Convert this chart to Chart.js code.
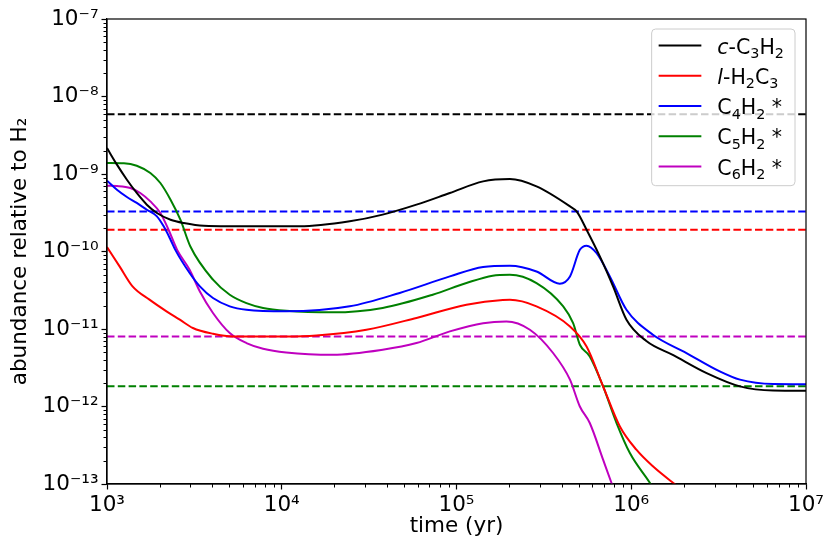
<!DOCTYPE html>
<html>
<head>
<meta charset="utf-8">
<script src="https://cdn.jsdelivr.net/npm/chart.js@4.4.1/dist/chart.umd.min.js"></script>
<style>
  html, body { margin: 0; padding: 0; background: #fff; }
  canvas { display: block; }
</style>
</head>
<body>
<canvas id="chart" width="830" height="554"></canvas>
<script>
// species labels: {..} = italic, _x = subscript
const species = ["{c}-C_3H_2", "{l}-H_2C_3", "C_4H_2 *", "C_5H_2 *", "C_6H_2 *"];
const colors = ["#000000", "#ff0000", "#0000ff", "#008000", "#bf00bf"];

// observed abundances (dashed lines), same order as species
const observed = [5.9e-9, 1.91e-10, 3.29e-10, 1.82e-12, 8.03e-12];

// model curves, time in yr
const tC3H2 = [1000, 1140, 1300, 1480, 1690, 1930, 2310, 2750, 3580, 7480, 12700, 24500, 37800, 59000, 91600, 142000, 202000, 287000, 446000, 487000, 555000, 661000, 787000, 939000, 1220000, 1740000, 2700000, 4190000, 6490000, 10000000];
const yC3H2 = [2.16e-9, 1.32e-9, 8.44e-10, 5.69e-10, 4.02e-10, 3.14e-10, 2.57e-10, 2.33e-10, 2.15e-10, 2.11e-10, 2.11e-10, 2.45e-10, 2.99e-10, 4.02e-10, 5.69e-10, 8.03e-10, 8.61e-10, 6.92e-10, 3.82e-10, 3.29e-10, 1.91e-10, 8.65e-11, 3.55e-11, 1.32e-11, 7.0e-12, 4.6e-12, 2.7e-12, 1.82e-12, 1.61e-12, 1.6e-12];

const tH2C3 = [1000, 1180, 1400, 1750, 2190, 2610, 3100, 4040, 5260, 10600, 15800, 30500, 59000, 114000, 184000, 202000, 287000, 446000, 555000, 690000, 861000, 1070000, 1330000, 1740000, 2100000];
const yH2C3 = [1.14e-10, 6.43e-11, 3.55e-11, 2.39e-11, 1.69e-11, 1.32e-11, 1.03e-11, 8.69e-12, 8.03e-12, 8.03e-12, 8.26e-12, 9.78e-12, 1.39e-11, 2.06e-11, 2.37e-11, 2.38e-11, 1.96e-11, 1.08e-11, 5.96e-12, 1.82e-12, 5.53e-13, 2.77e-13, 1.69e-13, 1.03e-13, 7.5e-14];

const tC4H2 = [1000, 1140, 1300, 1480, 1690, 1930, 2110, 2310, 2460, 2970, 3400, 4040, 5040, 6280, 10600, 24500, 47300, 91600, 142000, 202000, 287000, 390000, 446000, 508000, 555000, 632000, 754000, 939000, 1330000, 2070000, 3210000, 4190000, 6490000, 10000000];
const yC4H2 = [8.2e-10, 6.27e-10, 5.05e-10, 4.23e-10, 3.46e-10, 2.84e-10, 2.11e-10, 1.42e-10, 1.05e-10, 5.28e-11, 3.55e-11, 2.51e-11, 1.96e-11, 1.77e-11, 1.69e-11, 1.96e-11, 2.92e-11, 4.77e-11, 6.31e-11, 6.56e-11, 5.53e-11, 3.85e-11, 4.77e-11, 1.05e-10, 1.19e-10, 9.57e-11, 4.77e-11, 1.77e-11, 8.44e-12, 4.9e-12, 2.84e-12, 2.22e-12, 1.95e-12, 1.94e-12];

const tC5H2 = [1000, 1250, 1480, 1770, 2020, 2310, 2630, 3000, 4040, 5040, 6280, 7820, 10600, 19600, 37800, 73100, 114000, 161000, 202000, 287000, 408000, 465000, 508000, 579000, 690000, 824000, 982000, 1280000, 1600000];
const yC5H2 = [1.39e-9, 1.38e-9, 1.28e-9, 1.03e-9, 7.65e-10, 4.66e-10, 2.57e-10, 1.16e-10, 4.33e-11, 2.77e-11, 2.16e-11, 1.87e-11, 1.72e-11, 1.64e-11, 1.87e-11, 2.77e-11, 3.92e-11, 4.88e-11, 5.02e-11, 3.92e-11, 1.96e-11, 1.19e-11, 6.27e-12, 4.43e-12, 1.82e-12, 6.12e-13, 2.51e-13, 1.03e-13, 4.5e-14];

const tC6H2 = [1000, 1140, 1360, 1550, 1770, 2020, 2250, 2520, 2970, 3400, 4040, 5040, 6280, 7820, 10600, 19600, 37800, 59000, 91600, 142000, 193000, 263000, 357000, 446000, 508000, 579000, 690000, 771000, 850000];
const yC6H2 = [7.06e-10, 7.0e-10, 6.6e-10, 5.69e-10, 4.43e-10, 3.14e-10, 1.91e-10, 1.05e-10, 5.82e-11, 3.05e-11, 1.61e-11, 8.87e-12, 6.59e-12, 5.57e-12, 4.99e-12, 4.66e-12, 5.41e-12, 6.59e-12, 9.31e-12, 1.19e-11, 1.25e-11, 9.78e-12, 4.9e-12, 2.22e-12, 1.0e-12, 6.12e-13, 2.06e-13, 1.03e-13, 5.5e-14];

const curves = [[tC3H2, yC3H2], [tH2C3, yH2C3], [tC4H2, yC4H2], [tC5H2, yC5H2], [tC6H2, yC6H2]];

const xRange = [1e3, 1e7];
const yRange = [1e-13, 1e-7];

const FONT = "'DejaVu Sans', sans-serif";
const SUP = { "-": "\u207b", "0": "\u2070", "1": "\u00b9", "2": "\u00b2", "3": "\u00b3", "4": "\u2074", "5": "\u2075", "6": "\u2076", "7": "\u2077", "8": "\u2078", "9": "\u2079" };

function isDecade(v) {
  const e = Math.log10(v);
  return Math.abs(e - Math.round(e)) < 1e-6;
}

function powerLabel(v) {
  if (!isDecade(v)) return "";
  const e = String(Math.round(Math.log10(v)));
  return "10" + e.split("").map(c => SUP[c]).join("");
}

function setLogTicks(scale, range) {
  const lo = Math.round(Math.log10(range[0]));
  const hi = Math.round(Math.log10(range[1]));
  const ticks = [];
  for (let e = lo; e < hi; e++) {
    for (let m = 1; m < 10; m++) {
      ticks.push({ value: Number((m * Math.pow(10, e)).toPrecision(6)), major: m === 1 });
    }
  }
  ticks.push({ value: Math.pow(10, hi), major: true });
  scale.ticks = ticks;
}

function parseLabel(s) {
  const runs = [];
  let italic = false;
  let buf = "";
  const flush = () => { if (buf) runs.push({ text: buf, italic, sub: false }); buf = ""; };
  for (let i = 0; i < s.length; i++) {
    const ch = s[i];
    if (ch === "{") { flush(); italic = true; }
    else if (ch === "}") { flush(); italic = false; }
    else if (ch === "_") { flush(); runs.push({ text: s[i + 1], italic: false, sub: true }); i++; }
    else buf += ch;
  }
  flush();
  return runs;
}

function drawRuns(ctx, runs, x, y, size, measureOnly) {
  for (const r of runs) {
    const fs = r.sub ? size * 0.7 : size;
    ctx.font = (r.italic ? "oblique " : "") + fs + "px " + FONT;
    if (!measureOnly) ctx.fillText(r.text, x, y + (r.sub ? size * 0.22 : 0));
    x += ctx.measureText(r.text).width;
  }
  return x;
}

const frame = {
  id: "frame",
  afterDatasetsDraw(chart) {
    const { ctx, chartArea: a, scales } = chart;
    ctx.save();
    ctx.strokeStyle = "#000";
    ctx.lineWidth = 1;
    ctx.beginPath();
    scales.x.ticks.forEach(t => {
      if (isDecade(t.value)) return;
      const px = Math.round(scales.x.getPixelForValue(t.value)) + 0.5;
      ctx.moveTo(px, a.bottom);
      ctx.lineTo(px, a.bottom + 3.5);
    });
    scales.y.ticks.forEach(t => {
      if (isDecade(t.value)) return;
      const py = Math.round(scales.y.getPixelForValue(t.value)) + 0.5;
      ctx.moveTo(a.left, py);
      ctx.lineTo(a.left - 3.5, py);
    });
    ctx.stroke();
    ctx.lineWidth = 1.2;
    ctx.strokeRect(a.left, a.top, a.right - a.left, a.bottom - a.top);

    // legend
    const size = 20.5;
    const rowH = 30.25;
    const handle = 42.7;
    ctx.textBaseline = "alphabetic";
    const parsed = species.map(parseLabel);
    const textW = Math.max(...parsed.map(r => drawRuns(ctx, r, 0, 0, size, true)));
    const w = 7 + handle + 16 + textW + 11;
    const h = 16.4 + rowH * (species.length - 1) + 19.3;
    const bx = a.right - 11 - w;
    const by = a.top + 10;
    ctx.beginPath();
    ctx.roundRect(bx, by, w, h, 4);
    ctx.fillStyle = "rgba(255,255,255,0.8)";
    ctx.fill();
    ctx.strokeStyle = "#cccccc";
    ctx.lineWidth = 1;
    ctx.stroke();
    parsed.forEach((runs, i) => {
      const ry = by + 16.4 + i * rowH;
      ctx.strokeStyle = colors[i];
      ctx.lineWidth = 2;
      ctx.beginPath();
      ctx.moveTo(bx + 7, ry);
      ctx.lineTo(bx + 7 + handle, ry);
      ctx.stroke();
      ctx.fillStyle = "#000";
      drawRuns(ctx, runs, bx + 7 + handle + 16, ry + size * 0.4, size, false);
    });
    ctx.restore();
  }
};

const datasets = [];
curves.forEach(([t, v], i) => {
  datasets.push({
    label: species[i],
    data: t.map((x, k) => ({ x, y: v[k] })),
    borderColor: colors[i],
    borderWidth: 2,
    pointRadius: 0,
    fill: false,
    cubicInterpolationMode: "monotone",
  });
});
observed.forEach((v, i) => {
  datasets.push({
    label: species[i] + " observed",
    data: [{ x: xRange[0], y: v }, { x: xRange[1], y: v }],
    borderColor: colors[i],
    borderWidth: 2,
    borderDash: [7.5, 3.3],
    pointRadius: 0,
    fill: false,
  });
});

const tickFont = { family: FONT, size: 21.5 };

new Chart(document.getElementById("chart"), {
  type: "line",
  data: { datasets },
  options: {
    responsive: false,
    animation: false,
    events: [],
    layout: { padding: { left: 0, top: 19, right: 24, bottom: 0 } },
    plugins: { legend: { display: false }, tooltip: { enabled: false } },
    scales: {
      x: {
        type: "logarithmic",
        min: xRange[0],
        max: xRange[1],
        afterBuildTicks: s => setLogTicks(s, xRange),
        afterFit: s => { s.height = 70; },
        ticks: { autoSkip: false, maxRotation: 0, padding: 3, color: "#000", font: tickFont, callback: v => powerLabel(v) },
        grid: {
          drawOnChartArea: false,
          tickLength: 5.5,
          tickWidth: 1.2,
          tickColor: c => (c.tick && isDecade(c.tick.value) ? "#000" : "rgba(0,0,0,0)"),
        },
        border: { color: "#000", width: 1.2 },
        title: { display: true, text: "time (yr)", color: "#000", font: { family: FONT, size: 21.5 }, padding: { top: 0, bottom: 15 } },
      },
      y: {
        type: "logarithmic",
        min: yRange[0],
        max: yRange[1],
        afterBuildTicks: s => setLogTicks(s, yRange),
        afterFit: s => { s.width = 107; },
        ticks: { autoSkip: false, padding: 3, color: "#000", font: tickFont, callback: v => powerLabel(v) },
        grid: {
          drawOnChartArea: false,
          tickLength: 5.5,
          tickWidth: 1.2,
          tickColor: c => (c.tick && isDecade(c.tick.value) ? "#000" : "rgba(0,0,0,0)"),
        },
        border: { color: "#000", width: 1.2 },
        title: { display: true, text: "abundance relative to H\u2082", color: "#000", font: { family: FONT, size: 21.5 }, padding: { top: 7.6, bottom: 0 } },
      },
    },
  },
  plugins: [frame],
});
</script>
</body>
</html>
